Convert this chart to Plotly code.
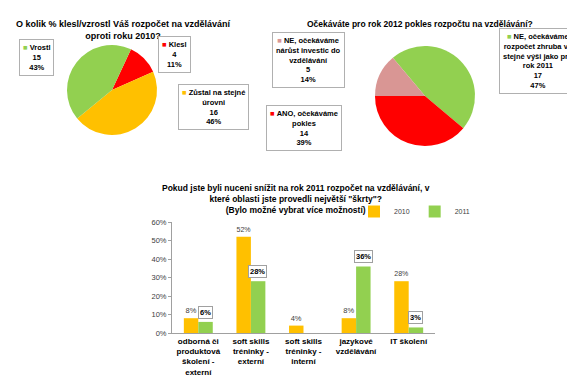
import plotly.graph_objects as go

W, H = 575, 389

# ---------------- data ----------------
pie1_title = "<b>O kolik % klesl/vzrostl Váš rozpočet na vzdělávání<br>oproti roku 2010?</b>"
pie1_labels = ["Klesl", "Zůstal na stejné úrovni", "Vrostl"]
pie1_label_text = ["Klesl", "Zůstal na stejné<br>úrovni", "Vrostl"]
pie1_values = [4, 16, 15]
pie1_colors = ["#FF0000", "#FFC000", "#92D050"]

pie2_title = "<b>Očekáváte pro rok 2012 pokles rozpočtu na vzdělávání?</b>"
pie2_labels = ["NE, očekáváme rozpočet zhruba ve stejné výši jako pro rok 2011",
               "ANO, očekáváme pokles",
               "NE, očekáváme nárůst investic do vzdělávání"]
pie2_label_text = ["NE, očekáváme<br>rozpočet zhruba ve<br>stejné výši jako pro<br>rok 2011",
                   "ANO, očekáváme<br>pokles",
                   "NE, očekáváme<br>nárůst investic do<br>vzdělávání"]
pie2_values = [17, 14, 5]
pie2_colors = ["#92D050", "#FF0000", "#D99694"]

bar_title = ("<b>Pokud jste byli nuceni snížit na rok 2011 rozpočet na vzdělávání, v<br>"
             "které oblasti jste provedli největší \"škrty\"?<br>"
             "(Bylo možné vybrat více možností)</b>")
bar_categories = ["odborná či<br>produktová<br>školení -<br>externí",
                  "soft skills<br>tréninky -<br>externí",
                  "soft skills<br>tréninky -<br>interní",
                  "jazykové<br>vzdělávání",
                  "IT školení"]
bar_2010 = [8, 52, 4, 8, 28]
bar_2011 = [6, 28, 0, 36, 3]
series_names = ["2010", "2011"]
series_colors = ["#FFC000", "#92D050"]
y_ticks = [0, 10, 20, 30, 40, 50, 60]

FONT = "Liberation Sans Narrow, Liberation Sans, Arial, sans-serif"


def px(x):
    return x / W


def py(y):
    return 1 - y / H


fig = go.Figure()

# ---------------- pies ----------------
fig.add_trace(go.Pie(
    labels=pie1_labels, values=pie1_values, sort=False, direction="clockwise",
    rotation=25, marker=dict(colors=pie1_colors, line=dict(width=0)),
    textinfo="none", hoverinfo="label+value+percent", showlegend=False,
    domain=dict(x=[px(59), px(149)], y=[py(127), py(37)]),
))
fig.add_trace(go.Pie(
    labels=pie2_labels, values=pie2_values, sort=False, direction="clockwise",
    rotation=-40, marker=dict(colors=pie2_colors, line=dict(width=0)),
    textinfo="none", hoverinfo="label+value+percent", showlegend=False,
    domain=dict(x=[px(367), px(467)], y=[py(138), py(38)]),
))

# ---------------- bars ----------------
fig.add_trace(go.Bar(
    x=bar_categories, y=bar_2010, name=series_names[0],
    marker=dict(color=series_colors[0], line=dict(width=0)),
    text=[f"{v}%" if v else "" for v in bar_2010], textposition="outside",
    textfont=dict(size=7.5, color="#404040", family=FONT),
    cliponaxis=False, xaxis="x", yaxis="y",
))
fig.add_trace(go.Bar(
    x=bar_categories, y=bar_2011, name=series_names[1],
    marker=dict(color=series_colors[1], line=dict(width=0)),
    xaxis="x", yaxis="y",
))

annotations = []

# titles
annotations.append(dict(text=pie1_title, x=px(115), y=py(9), xref="paper", yref="paper",
                        xanchor="center", yanchor="top", showarrow=False,
                        font=dict(size=9, family=FONT, color="#000")))
annotations.append(dict(text=pie2_title, x=px(412), y=py(9), xref="paper", yref="paper",
                        xanchor="center", yanchor="top", showarrow=False,
                        font=dict(size=8.5, family=FONT, color="#000")))
annotations.append(dict(text=bar_title, x=px(288), y=py(191), xref="paper", yref="paper",
                        xanchor="center", yanchor="middle", showarrow=False,
                        font=dict(size=8.5, family=FONT, color="#000")))

# pie label boxes
def pie_boxes(labels, values, colors, centers):
    total = sum(values)
    for lab, v, c, (cx, cy) in zip(labels, values, colors, centers):
        pct = round(v / total * 100)
        txt = f"<span style='color:{c}'>■</span> <b>{lab}<br>{v}<br>{pct}%</b>"
        annotations.append(dict(text=txt, x=px(cx), y=py(cy), xref="paper", yref="paper",
                                xanchor="center", yanchor="middle", showarrow=False,
                                align="center", bgcolor="white", bordercolor="#B0B0B0",
                                borderwidth=1, borderpad=3,
                                font=dict(size=7.5, family=FONT, color="#000")))

pie_boxes(pie1_label_text, pie1_values, pie1_colors, [(166, 47), (205, 99), (28, 50)])
pie_boxes(pie2_label_text, pie2_values, pie2_colors, [(530, 53), (296, 120), (300, 52)])

# 2011 boxed labels
for cat, v in zip(bar_categories, bar_2011):
    if v:
        annotations.append(dict(text=f"<b>{v}%</b>", x=cat, y=v, xref="x", yref="y",
                                xshift=7, yshift=3, xanchor="center", yanchor="bottom",
                                showarrow=False, bgcolor="white", bordercolor="#A0A0A0",
                                borderwidth=1, borderpad=1,
                                font=dict(size=7.5, family=FONT, color="#000")))

fig.update_layout(
    width=W, height=H, margin=dict(l=0, r=0, t=0, b=0),
    paper_bgcolor="white", plot_bgcolor="white",
    font=dict(family=FONT, size=8, color="#000"),
    barmode="group", bargap=0.45, bargroupgap=0,
    annotations=annotations,
    legend=dict(orientation="h", x=px(346), y=py(189), xanchor="left", yanchor="top",
                font=dict(size=7, family=FONT, color="#404040"),
                itemwidth=30, tracegroupgap=0, bgcolor="rgba(0,0,0,0)"),
    xaxis=dict(domain=[px(164), px(427)], anchor="y", showline=True, linecolor="#A0A0A0",
               ticks="", showgrid=False, tickfont=dict(size=8, family=FONT),
               tickvals=bar_categories, ticktext=[f"<b>{c}</b>" for c in bar_categories],
               tickangle=0, automargin=False),
    yaxis=dict(domain=[py(325), py(214)], anchor="x", range=[0, 60], tickvals=y_ticks,
               ticktext=[f"{v}%" for v in y_ticks], showline=True, linecolor="#A0A0A0",
               ticks="outside", ticklen=3, tickcolor="#A0A0A0", showgrid=False,
               zeroline=False, automargin=False,
               tickfont=dict(size=7.5, family=FONT, color="#404040")),
)

fig.write_html("out.html")
